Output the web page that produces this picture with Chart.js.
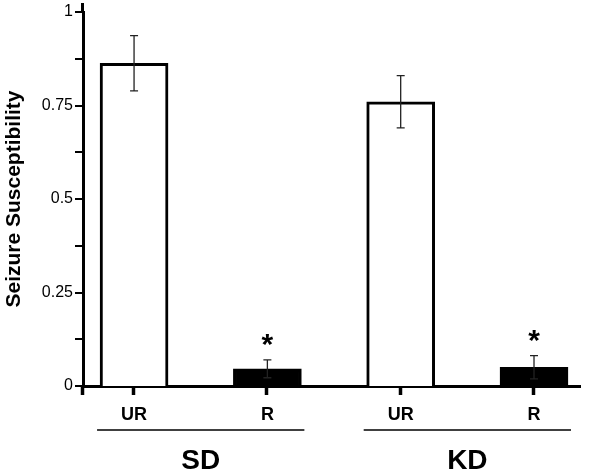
<!DOCTYPE html>
<html>
<head>
<meta charset="utf-8">
<script src="https://cdn.jsdelivr.net/npm/chart.js@4/dist/chart.umd.min.js"></script>
<style>
  html, body { margin: 0; padding: 0; background: #fff; }
  #wrap { width: 600px; height: 471px; }
</style>
</head>
<body>
<div id="wrap"><canvas id="chart" width="600" height="471"></canvas></div>
<script>
// data
const categories = ['UR', 'R', 'UR', 'R'];
const groups = ['SD', 'KD'];
const groupMembers = [[0, 1], [2, 3]];
const means = [0.863, 0.046, 0.76, 0.05];
const errs = [0.074, 0.024, 0.07, 0.031];
const stars = ['', '*', '', '*'];
const fills = ['#ffffff', '#000000', '#ffffff', '#000000'];
const yTicks = [0, 0.25, 0.5, 0.75, 1];

const FONT = "'Liberation Sans', Arial, Helvetica, sans-serif";
const BAR_W = 68;

const extras = {
    id: 'extras',
    afterDatasetsDraw(chart) {
        const ctx = chart.ctx;
        const xs = chart.scales.x, ys = chart.scales.y;
        const area = chart.chartArea;
        ctx.save();
        ctx.strokeStyle = '#000';
        // axis line runs a little past the top value
        ctx.lineWidth = 3;
        ctx.beginPath();
        ctx.moveTo(area.left - 0.5, area.top - 9);
        ctx.lineTo(area.left - 0.5, area.top);
        ctx.stroke();
        // y tick marks
        ctx.lineWidth = 2;
        ys.ticks.forEach(t => {
            const y = Math.round(ys.getPixelForValue(t.value));
            ctx.beginPath();
            ctx.moveTo(area.left - 8, y);
            ctx.lineTo(area.left, y);
            ctx.stroke();
        });
        // x tick marks
        ctx.lineWidth = 3.5;
        xs.ticks.forEach(t => {
            const x = Math.round(xs.getPixelForValue(t.value)) - 0.5;
            ctx.beginPath();
            ctx.moveTo(x, area.bottom);
            ctx.lineTo(x, area.bottom + 9);
            ctx.stroke();
        });
        // error bars and significance marks
        ctx.strokeStyle = '#222';
        ctx.lineWidth = 1.3;
        means.forEach((m, i) => {
            const x = xs.getPixelForValue(i);
            const top = ys.getPixelForValue(m + errs[i]);
            const bot = ys.getPixelForValue(m - errs[i]);
            ctx.beginPath();
            ctx.moveTo(x, top); ctx.lineTo(x, bot);
            ctx.moveTo(x - 4, top); ctx.lineTo(x + 4, top);
            ctx.moveTo(x - 4, bot); ctx.lineTo(x + 4, bot);
            ctx.stroke();
            if (stars[i]) {
                ctx.fillStyle = '#000';
                ctx.font = 'bold 30px ' + FONT;
                ctx.textAlign = 'center';
                ctx.textBaseline = 'alphabetic';
                ctx.fillText(stars[i], x, top - 6);
            }
        });
        ctx.restore();
    },
    afterDraw(chart) {
        const ctx = chart.ctx;
        const xs = chart.scales.x;
        const base = chart.chartArea.bottom;
        ctx.save();
        ctx.strokeStyle = '#000';
        ctx.fillStyle = '#000';
        ctx.lineWidth = 1.5;
        groupMembers.forEach((idx, g) => {
            const x1 = xs.getPixelForValue(idx[0]) - BAR_W / 2 - 3;
            const x2 = xs.getPixelForValue(idx[idx.length - 1]) + BAR_W / 2 + 3;
            ctx.beginPath();
            ctx.moveTo(x1, base + 44);
            ctx.lineTo(x2, base + 44);
            ctx.stroke();
            ctx.font = 'bold 28px ' + FONT;
            ctx.textAlign = 'center';
            ctx.textBaseline = 'middle';
            ctx.fillText(groups[g], (x1 + x2) / 2, base + 75);
        });
        ctx.restore();
    }
};

new Chart(document.getElementById('chart'), {
    type: 'bar',
    data: {
        datasets: [{
            data: means.map((m, i) => ({ x: i, y: m })),
            backgroundColor: fills,
            borderColor: '#000',
            borderWidth: 3,
            barThickness: BAR_W
        }]
    },
    options: {
        responsive: false,
        animation: false,
        layout: { padding: { top: 12, left: 2, right: 20, bottom: 45 } },
        plugins: {
            legend: { display: false },
            tooltip: { enabled: false }
        },
        scales: {
            x: {
                type: 'linear',
                offset: false,
                min: -0.383,
                max: 3.345,
                afterBuildTicks: (s) => { s.ticks = [s.min, 0, 1, 2, 3].map(v => ({ value: v })); },
                afterFit: (s) => { s.height = 40; },
                border: { color: '#000', width: 3 },
                grid: { display: false, drawTicks: true, tickLength: 9 },
                ticks: {
                    padding: 9,
                    color: '#000',
                    font: { family: FONT, size: 18, weight: 'bold' },
                    callback: (v) => categories[v] !== undefined ? categories[v] : ''
                }
            },
            y: {
                min: 0,
                max: 1,
                afterFit: (s) => { s.width = 81; },
                border: { color: '#000', width: 3 },
                grid: { display: false, drawTicks: true, tickLength: 8 },
                ticks: {
                    stepSize: 0.125,
                    padding: 2,
                    color: '#000',
                    font: { family: FONT, size: 16 },
                    callback: (v) => yTicks.includes(v) ? String(v) : ''
                },
                title: {
                    display: true,
                    text: 'Seizure Susceptibility',
                    color: '#000',
                    padding: { top: 0, bottom: 0 },
                    font: { family: FONT, size: 21, weight: 'bold' }
                }
            }
        }
    },
    plugins: [extras]
});
</script>
</body>
</html>
